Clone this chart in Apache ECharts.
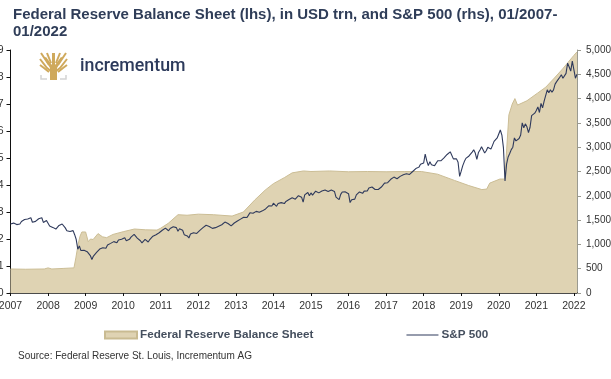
<!DOCTYPE html>
<html>
<head>
<meta charset="utf-8">
<style>
  html, body { margin: 0; padding: 0; background: #fff; }
  #chart { width: 611px; height: 379px; }
</style>
<script src="https://cdn.jsdelivr.net/npm/echarts@6/dist/echarts.min.js"></script>
</head>
<body>
<div id="chart"></div>
<script>
const yearTicks = [2007, 2008, 2009, 2010, 2011, 2012, 2013, 2014, 2015, 2016, 2017, 2018, 2019, 2020, 2021, 2022];

// balance sheet, USD trn (lhs)
const fedYears = [
  2007, 2007.4, 2007.9, 2008, 2008.1, 2008.4, 2008.69, 2008.74, 2008.8, 2008.85, 2008.9, 2008.95, 2009, 2009.04, 2009.07, 2009.13, 2009.2, 2009.33, 2009.38, 2009.45, 2009.56,
  2009.73, 2010, 2010.3, 2010.6, 2010.9, 2011, 2011.2, 2011.46, 2011.7, 2012, 2012.4, 2012.9, 2013.2, 2013.5, 2013.78, 2014, 2014.3, 2014.5, 2014.8,
  2015, 2015.5, 2016, 2016.5, 2017, 2017.5, 2017.94, 2018.37, 2018.82, 2019.2, 2019.55, 2019.68, 2019.76, 2020.03, 2020.16, 2020.27, 2020.36, 2020.43,
  2020.5, 2020.75, 2021.03, 2021.25, 2021.48, 2021.7, 2021.85, 2022, 2022.0833
];
const fedValues = [
  0.89, 0.88, 0.89, 0.93, 0.89, 0.91, 0.93, 1.3, 1.8, 2.1, 2.26, 2.2, 2.26, 2.22, 1.9, 2, 1.98, 2.2, 2.22, 2.08, 2.05,
  2.17, 2.27, 2.37, 2.34, 2.33, 2.4, 2.58, 2.9, 2.88, 2.92, 2.9, 2.85, 3.0, 3.44, 3.81, 4.05, 4.28, 4.45, 4.52,
  4.5, 4.52, 4.49, 4.5, 4.49, 4.5, 4.5, 4.4, 4.17, 3.98, 3.83, 3.85, 4.07, 4.22, 4.22, 6.6, 7.0, 7.2,
  6.96, 7.12, 7.4, 7.62, 7.96, 8.3, 8.55, 8.8, 8.93
];

// S&P 500 (rhs), two readings a month
const spxStart = 2007;
const spxValues = [
  1418, 1431, 1438, 1456, 1407, 1387, 1421, 1472, 1482, 1512, 1531, 1522, 1503, 1549, 1455, 1426, 1474, 1484, 1527, 1562, 1549, 1452, 1481, 1490,
  1468, 1380, 1378, 1350, 1331, 1315, 1323, 1390, 1386, 1420, 1400, 1340, 1280, 1245, 1267, 1298, 1283, 1200, 1100, 900, 969, 873, 896, 880,
  903, 850, 826, 770, 690, 760, 798, 835, 873, 905, 919, 930, 919, 920, 987, 1000, 1021, 1040, 1057, 1068, 1036, 1090, 1096, 1105,
  1115, 1136, 1074, 1095, 1104, 1150, 1169, 1205, 1187, 1130, 1089, 1075, 1031, 1070, 1102, 1090, 1049, 1100, 1141, 1170, 1183, 1200, 1181, 1240,
  1258, 1290, 1286, 1335, 1327, 1280, 1326, 1315, 1364, 1335, 1345, 1272, 1321, 1320, 1292, 1200, 1219, 1175, 1131, 1215, 1253, 1240, 1247, 1225,
  1258, 1290, 1312, 1345, 1366, 1395, 1408, 1370, 1398, 1330, 1310, 1345, 1362, 1375, 1379, 1405, 1407, 1460, 1441, 1430, 1412, 1380, 1416, 1440,
  1426, 1480, 1498, 1520, 1515, 1560, 1569, 1552, 1598, 1650, 1631, 1640, 1606, 1680, 1686, 1660, 1633, 1690, 1682, 1730, 1757, 1795, 1806, 1790,
  1848, 1840, 1783, 1840, 1859, 1860, 1872, 1840, 1884, 1880, 1924, 1960, 1960, 1975, 1931, 1955, 2003, 1985, 1972, 1870, 2018, 2040, 2068, 2000,
  2059, 2015, 1995, 2095, 2105, 2060, 2068, 2100, 2086, 2120, 2107, 2090, 2063, 2120, 2104, 2090, 1972, 1950, 1920, 2030, 2079, 2060, 2080, 2050,
  2044, 1860, 1920, 1880, 1932, 2020, 2060, 2080, 2065, 2050, 2097, 2075, 2099, 2160, 2174, 2180, 2171, 2130, 2168, 2130, 2126, 2180, 2199, 2260,
  2239, 2270, 2279, 2340, 2364, 2385, 2363, 2350, 2384, 2400, 2412, 2435, 2423, 2455, 2470, 2440, 2472, 2500, 2519, 2560, 2575, 2590, 2648, 2675,
  2674, 2860, 2720, 2620, 2700, 2640, 2660, 2620, 2660, 2720, 2750, 2720, 2760, 2780, 2800, 2850, 2880, 2905, 2920, 2760, 2720, 2760, 2690, 2400,
  2507, 2620, 2704, 2770, 2784, 2820, 2834, 2900, 2946, 2880, 2752, 2890, 2942, 3010, 2980, 2880, 2926, 3000, 2977, 2960, 3038, 3120, 3141, 3190,
  3231, 3354, 3250, 2985, 2304, 2650, 2800, 2870, 2950, 3000, 3190, 3130, 3100, 3180, 3250, 3500, 3400, 3480, 3420, 3300, 3410, 3650, 3620, 3700,
  3756, 3830, 3714, 3900, 3811, 3950, 3973, 4180, 4120, 4180, 4130, 4180, 4298, 4350, 4395, 4440, 4490, 4420, 4380, 4520, 4730, 4650, 4567, 4770,
  4766, 4420, 4500
];

const titleLines = "Federal Reserve Balance Sheet (lhs), in USD trn, and S&P 500 (rhs), 01/2007-\n01/2022";
const sourceText = "Source: Federal Reserve St. Louis, Incrementum AG";

const fedData = fedYears.map((y, i) => [y, fedValues[i]]);
const spxData = spxValues.map((v, i) => [spxStart + i / 24, v]);

const chart = echarts.init(document.getElementById("chart"));
const gold = "#cfa95c";

// one branch of the logo tree
function branch(x1, y1, x2, y2, x3, y3) {
  return { type: "polyline", shape: { points: [[x1, y1], [x2, y2], [x3, y3]] }, style: { stroke: gold, fill: null, lineWidth: 2 } };
}

chart.setOption({
  animation: false,
  backgroundColor: "#fff",
  textStyle: { fontFamily: "Liberation Sans" },
  title: {
    text: titleLines,
    left: 13,
    top: 6,
    padding: 0,
    textStyle: { fontSize: 15, fontWeight: "bold", color: "#2f3d58", lineHeight: 17 }
  },
  grid: { left: 10.5, right: 34, top: 50, bottom: 86, outerBoundsMode: "none" },
  legend: {
    left: 104,
    top: 329,
    padding: 0,
    itemWidth: 32,
    itemHeight: 7,
    itemGap: 93,
    textStyle: { fontSize: 11.7, fontWeight: "bold", color: "#454f5e", padding: [0, 0, 0, -2] },
    data: [
      { name: "Federal Reserve Balance Sheet", icon: "rect" },
      { name: "S&P 500", icon: "path://M0,3 L32,3 L32,4 L0,4 Z" }
    ]
  },
  xAxis: {
    type: "value",
    min: 2007,
    max: 2022 + 2 / 24,
    interval: 1,
    splitLine: { show: false },
    axisLine: { lineStyle: { color: "#111", width: 1.5 } },
    axisTick: { length: 3, lineStyle: { color: "#111" }, customValues: yearTicks },
    axisLabel: { customValues: yearTicks, formatter: v => String(v), fontSize: 10.5, color: "#333", margin: 8 }
  },
  yAxis: [
    {
      type: "value",
      min: 0,
      max: 9,
      interval: 1,
      splitLine: { show: false },
      axisLine: { show: true, lineStyle: { color: "#111" } },
      axisTick: { show: true, length: 4, lineStyle: { color: "#111" } },
      axisLabel: { fontSize: 10.5, color: "#333", margin: 7 }
    },
    {
      type: "value",
      position: "right",
      min: 0,
      max: 5000,
      interval: 500,
      splitLine: { show: false },
      axisLine: { show: true, lineStyle: { color: "#9a9a90" } },
      axisTick: { show: true, length: 4, lineStyle: { color: "#9a9a90" } },
      axisLabel: { fontSize: 10, color: "#333", margin: 9, formatter: v => v.toLocaleString("en-US") }
    }
  ],
  series: [
    {
      name: "Federal Reserve Balance Sheet",
      type: "line",
      yAxisIndex: 0,
      data: fedData,
      showSymbol: false,
      lineStyle: { color: "#cbbd95", width: 1 },
      itemStyle: { color: "#dfd3b3", borderColor: "#c9bb92", borderWidth: 1 },
      areaStyle: { color: "#dfd3b3", opacity: 1 }
    },
    {
      name: "S&P 500",
      type: "line",
      yAxisIndex: 1,
      data: spxData,
      showSymbol: false,
      lineStyle: { color: "#2f3a5c", width: 1.1 },
      itemStyle: { color: "#2f3a5c" }
    }
  ],
  graphic: [
    { type: "text", left: 18, top: 351, style: { text: sourceText, fontSize: 10, fill: "#333", fontFamily: "Liberation Sans" } },
    { type: "text", left: 80, top: 58, style: { text: "incrementum", fontSize: 17.8, fontWeight: 500, fill: "#2c3a5b", fontFamily: "Roboto" } },
    // logo: tree with a small grey base
    { type: "polygon", shape: { points: [[50, 80], [50, 68], [44, 58], [46, 57], [52, 65], [52, 53], [55, 53], [55, 65], [61, 57], [63, 58], [57, 68], [57, 80]] }, style: { fill: gold } },
    branch(40, 59, 47, 68, 51, 71),
    branch(67, 59, 60, 68, 56, 71),
    branch(41, 53, 45, 59, 49, 65),
    branch(66, 53, 62, 59, 58, 65),
    branch(47, 53, 49, 58, 51, 63),
    branch(60, 53, 58, 58, 56, 63),
    branch(40, 65, 44, 68, 49, 72),
    branch(67, 65, 63, 68, 58, 72),
    { type: "polyline", shape: { points: [[41, 75], [41, 79], [47, 79]] }, style: { stroke: "#d4d4d4", fill: null, lineWidth: 1.5 } },
    { type: "polyline", shape: { points: [[66, 75], [66, 79], [60, 79]] }, style: { stroke: "#d4d4d4", fill: null, lineWidth: 1.5 } }
  ]
});
</script>
</body>
</html>
